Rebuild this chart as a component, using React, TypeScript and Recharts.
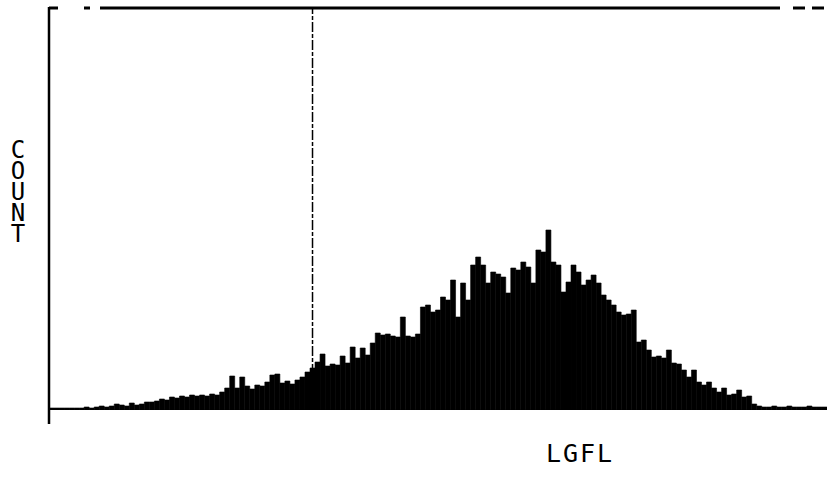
import React from 'react';
import { BarChart, Bar, XAxis, YAxis, ReferenceLine } from 'recharts';

// LGFL channel histogram, counts per bin (low channels first)
const counts = [
  2, 2, 2, 2, 2, 2, 2, 3, 2, 3,
  4, 3, 4, 6, 5, 4, 7, 5, 6, 8,
  8, 9, 11, 10, 13, 12, 14, 13, 15, 14,
  15, 14, 16, 15, 18, 22, 34, 22, 33, 24,
  21, 25, 24, 28, 35, 36, 27, 29, 26, 30,
  33, 38, 42, 48, 56, 44, 46, 45, 54, 47,
  63, 52, 62, 55, 67, 77, 75, 76, 74, 73,
  93, 74, 73, 76, 103, 105, 98, 100, 113, 110,
  130, 93, 127, 110, 145, 153, 145, 127, 138, 136,
  133, 117, 142, 140, 148, 143, 127, 160, 158, 180,
  148, 145, 118, 128, 145, 138, 125, 130, 135, 127,
  115, 110, 105, 98, 95, 96, 100, 68, 70, 60,
  53, 54, 52, 60, 47, 46, 40, 33, 40, 28,
  25, 28, 22, 18, 22, 15, 16, 20, 13, 14,
  6, 4, 3, 3, 4, 3, 3, 4, 3, 3,
  3, 4, 3, 3, 3,
];

const gateChannel = 52;
const yLabel = 'COUNT';
const xLabel = 'LGFL';

const data = counts.map((count, ch) => ({ ch, count }));

const plotterFont = '"DejaVu Sans Mono", monospace';

const App: React.FC = () => {
  return (
    <div style={{ position: 'absolute', left: 0, top: 0, width: 827, height: 485, background: '#fff' }}>
      <BarChart
        width={827}
        height={485}
        data={data}
        margin={{ top: 8, right: 0, bottom: 75, left: 49 }}
        barCategoryGap={0}
        barGap={0}
      >
        <XAxis
          dataKey="ch"
          type="category"
          height={0}
          tick={false}
          tickLine={false}
          axisLine={{ stroke: '#000', strokeWidth: 3 }}
        />
        <YAxis width={0} domain={[0, 402]} allowDataOverflow tick={false} tickLine={false} axisLine={false} />
        <ReferenceLine
          y={402}
          stroke="#000"
          strokeWidth={3}
          strokeDasharray="9 26 6 10 680 13 12 7 12 50"
        />
        <ReferenceLine
          x={gateChannel}
          stroke="#000"
          strokeWidth={1.5}
          strokeDasharray="10 2 4 2"
        />
        <Bar
          dataKey="count"
          fill="#000"
          stroke="#000"
          strokeWidth={0.6}
          isAnimationActive={false}
        />
      </BarChart>
      <svg
        width={827}
        height={485}
        style={{ position: 'absolute', left: 0, top: 0, pointerEvents: 'none' }}
      >
        {/* left count axis, running a little past the baseline */}
        <line x1={49} y1={7} x2={49} y2={424} stroke="#000" strokeWidth={2.5} />
        <text
          x={18}
          y={136}
          fontFamily={plotterFont}
          fontSize={24}
          letterSpacing={-7}
          fill="#000"
          style={{ writingMode: 'vertical-rl', textOrientation: 'upright' }}
        >
          {yLabel}
        </text>
        <text
          x={580}
          y={462}
          textAnchor="middle"
          fontFamily={plotterFont}
          fontSize={25}
          letterSpacing={2}
          fill="#000"
        >
          {xLabel}
        </text>
      </svg>
    </div>
  );
};

export default App;
